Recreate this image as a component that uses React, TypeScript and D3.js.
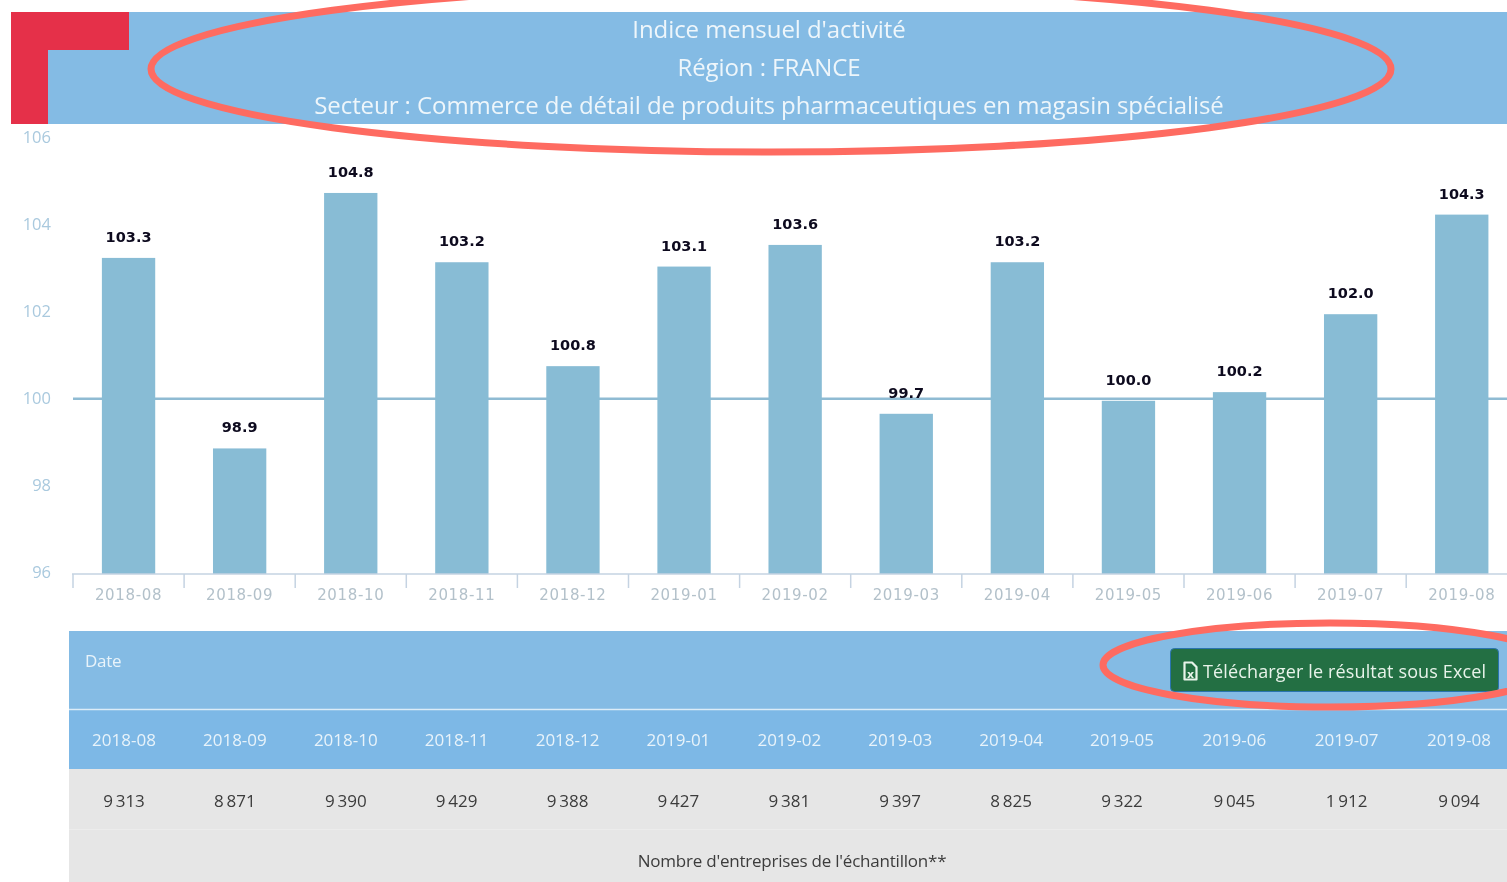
import React from 'react';
import * as d3 from 'd3';

const months = ['2018-08', '2018-09', '2018-10', '2018-11', '2018-12', '2019-01', '2019-02', '2019-03', '2019-04', '2019-05', '2019-06', '2019-07', '2019-08'];
const indexValues = [103.3, 98.9, 104.8, 103.2, 100.8, 103.1, 103.6, 99.7, 103.2, 100.0, 100.2, 102.0, 104.3];
const sampleSizes = ['9\u2009313', '8\u2009871', '9\u2009390', '9\u2009429', '9\u2009388', '9\u2009427', '9\u2009381', '9\u2009397', '8\u2009825', '9\u2009322', '9\u2009045', '1\u2009912', '9\u2009094'];
const yTicks = [96, 98, 100, 102, 104, 106];
const titleLines = ["Indice mensuel d'activité", 'Région : FRANCE', 'Secteur : Commerce de détail de produits pharmaceutiques en magasin spécialisé'];

const W = 1507;
const H = 882;
const tableFont = '"Open Sans", sans-serif';
const chartFont = '"DejaVu Sans", sans-serif';

const x = d3.scaleBand<string>().domain(months).range([73, 73 + 13 * 111.1]).paddingInner(0.52).paddingOuter(0.26);
const y = d3.scaleLinear().domain([96, 106]).range([574, 141]);
// tick labels sit on a slightly longer span than the bars
const yLabel = d3.scaleLinear().domain([96, 106]).range([577.5, 142.5]);
// table columns drift a little wider towards the right
const tableX = d3.scaleLinear().domain([0, 9, 12]).range([124, 1122, 1459]);

export default function App() {
  const step = x.step();
  return (
    <svg width={W} height={H} style={{ position: 'fixed', left: 0, top: 0, background: '#fff', filter: 'blur(0.4px)' }}>
      {/* title banner */}
      <rect x={11} y={12} width={W - 11} height={112} fill="#84bbe4" />
      <path d="M11 12H129V50H48V124H11Z" fill="#e53049" />
      {titleLines.map((t, i) => (
        <text key={t} x={769} y={38 + i * 38} textAnchor="middle" fontFamily={tableFont} fontSize={24} letterSpacing={-0.07} fill="#eef6fb">{t}</text>
      ))}

      {/* y axis labels */}
      {yTicks.map(t => (
        <text key={t} x={51} y={yLabel(t)} textAnchor="end" fontFamily={tableFont} fontSize={16.5} fill="#a9c9de">{t}</text>
      ))}

      {/* reference line at 100 */}
      <line x1={73} x2={W} y1={y(100) - 2} y2={y(100) - 2} stroke="#8fbbd3" strokeWidth={2.5} />

      {/* bars and values */}
      {months.map((m, i) => (
        <g key={m}>
          <rect x={x(m)} y={y(indexValues[i])} width={x.bandwidth()} height={y(96) - y(indexValues[i])} fill="#88bcd5" />
          <text x={x(m)! + x.bandwidth() / 2} y={y(indexValues[i]) - 16} textAnchor="middle" fontFamily={chartFont} fontWeight="bold" fontSize={14.5} fill="#0d0a1e">{indexValues[i].toFixed(1)}</text>
        </g>
      ))}

      {/* x axis */}
      <line x1={72} x2={W} y1={574} y2={574} stroke="#c5d3e2" strokeWidth={1.5} />
      {months.map((m, i) => {
        const left = x(m)! - step * 0.26;
        return (
          <g key={m}>
            <line x1={left} x2={left} y1={574} y2={588} stroke="#c5d3e2" strokeWidth={1.5} />
            <text x={x(m)! + x.bandwidth() / 2} y={600} textAnchor="middle" fontFamily={chartFont} fontSize={15} letterSpacing={0.65} fill="#b3c1ca">{m}</text>
          </g>
        );
      })}

      {/* table */}
      <rect x={69} y={631} width={W - 69} height={78} fill="#84bbe4" />
      <rect x={69} y={709} width={W - 69} height={60} fill="#7db8e6" />
      <line x1={69} x2={W} y1={709.5} y2={709.5} stroke="#dcecf7" strokeWidth={1.5} />
      <rect x={69} y={769} width={W - 69} height={113} fill="#e6e6e6" />
      <line x1={69} x2={W} y1={829.5} y2={829.5} stroke="#ececec" strokeWidth={1} />
      <text x={85} y={667} fontFamily={tableFont} fontSize={17} letterSpacing={-0.3} fill="#e8f3fa">Date</text>
      {months.map((m, i) => (
        <g key={m}>
          <text x={tableX(i)} y={746} textAnchor="middle" fontFamily={tableFont} fontSize={17} letterSpacing={0} fill="#e8f3fa">{m}</text>
          <text x={tableX(i)} y={807} textAnchor="middle" fontFamily={tableFont} fontSize={17} letterSpacing={0} fill="#3c3c3c">{sampleSizes[i]}</text>
        </g>
      ))}
      <text x={792} y={867} textAnchor="middle" fontFamily={tableFont} fontSize={17} letterSpacing={-0.22} fill="#3c3c3c">Nombre d'entreprises de l'échantillon**</text>

      {/* download button */}
      <rect x={1170.5} y={648.5} width={328} height={43} rx={4} fill="#236f43" stroke="#2a74ae" strokeWidth={1} />
      <path d="M1184.5 662.5H1192L1196.5 667V679.5H1184.5Z" fill="none" stroke="#e8f3ea" strokeWidth={2.2} strokeLinejoin="round" />
      <text x={1190.5} y={678} textAnchor="middle" fontFamily={chartFont} fontWeight="bold" fontSize={11} fill="#e8f3ea">x</text>
      <text x={1203} y={678} fontFamily={tableFont} fontSize={18} letterSpacing={0.14} fill="#e8f3ea">Télécharger le résultat sous Excel</text>

      {/* highlight ellipses */}
      <ellipse cx={771} cy={69} rx={620} ry={83} fill="none" stroke="#fe6b61" strokeWidth={7} />
      <ellipse cx={1330} cy={665} rx={227} ry={42} fill="none" stroke="#fe6b61" strokeWidth={7} />
    </svg>
  );
}
